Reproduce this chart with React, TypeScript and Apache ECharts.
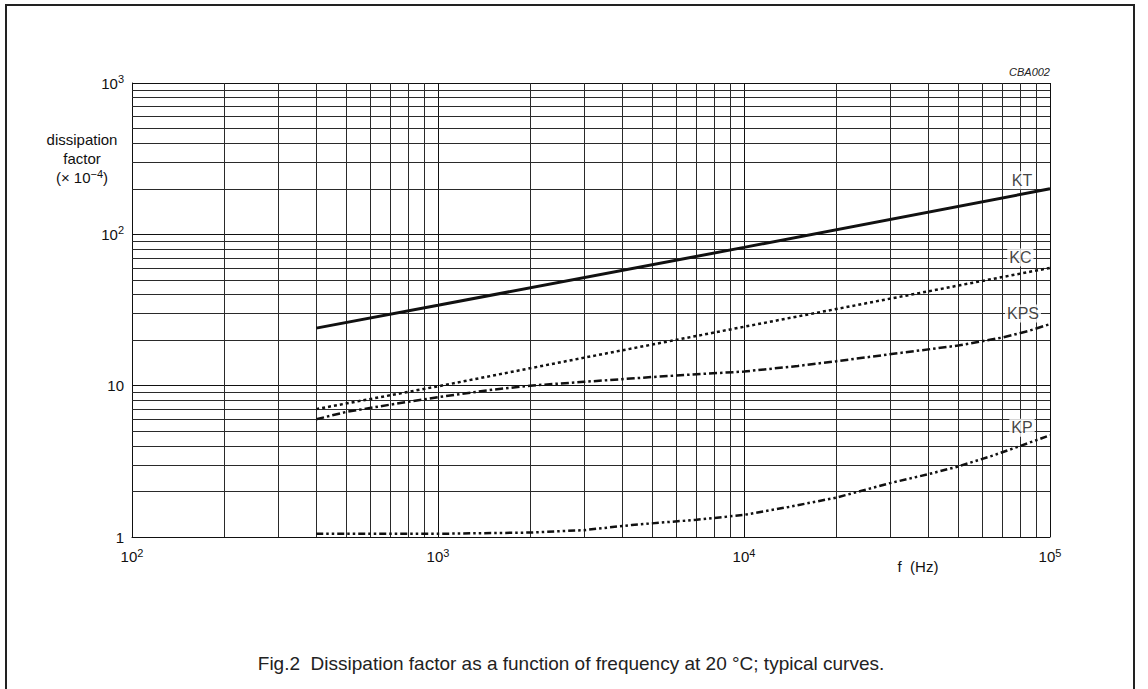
import React, { useEffect, useRef } from "react";
import * as echarts from "echarts";

// ---- data ----
const ktFreq = [400, 1000, 10000, 100000];
const ktVal = [24, 34, 82, 200];

const kcFreq = [400, 1000, 2900, 10000, 100000];
const kcVal = [7, 9.9, 15.1, 24.5, 60];

const kpsFreq = [400, 500, 700, 1000, 1500, 2000, 3000, 5000, 7000, 10000, 15000, 20000, 32000, 50000, 70000, 85000, 100000];
const kpsVal = [6, 6.7, 7.5, 8.4, 9.4, 10, 10.6, 11.4, 11.9, 12.4, 13.5, 14.5, 16.4, 18.4, 20.8, 23, 25.5];

const kpFreq = [400, 1000, 2000, 3000, 4300, 5500, 7000, 10000, 14000, 20000, 30000, 40000, 50000, 65000, 80000, 100000];
const kpVal = [1.05, 1.05, 1.07, 1.11, 1.2, 1.25, 1.3, 1.4, 1.58, 1.82, 2.27, 2.6, 2.92, 3.45, 4.0, 4.7];

// curve tags (frequency, value) placed near right end
const tagNames = ["KT", "KC", "KPS", "KP"];
const tagFreq = [81000, 80000, 81600, 81000];
const tagVal = [228, 70.4, 30, 5.27];

// minor grid values
const xMinor = [200, 300, 400, 500, 600, 700, 800, 900, 2000, 3000, 4000, 5000, 6000, 7000, 8000, 9000, 20000, 30000, 40000, 50000, 60000, 70000, 80000, 90000];
const yMinor = [2, 3, 4, 5, 6, 7, 8, 9, 20, 30, 40, 50, 60, 70, 80, 90, 200, 300, 400, 500, 600, 700, 800, 900];

const FONT = "'Liberation Sans', Arial, Helvetica, sans-serif";
const INK = "#111";

const zip = (xs: number[], ys: number[]) => xs.map((x, i) => [x, ys[i]]);

export default function App() {
  const ref = useRef<HTMLDivElement>(null);
  useEffect(() => {
    if (!ref.current) return;
    const chart = echarts.init(ref.current, null, { renderer: "svg" });
    const sup = { fontSize: 11, fontFamily: FONT, color: INK, padding: [0, 0, 8, 0] };
    const base = { fontSize: 15, fontFamily: FONT, color: INK };
    const lineCommon = { type: "line", showSymbol: false, symbol: "none", silent: true, z: 5 };
    chart.setOption({
      animation: false,
      backgroundColor: "#fff",
      grid: { left: 132, top: 83, width: 918, height: 454, containLabel: false },
      xAxis: {
        type: "log",
        logBase: 10,
        min: 100,
        max: 100000,
        axisLine: { show: true, lineStyle: { color: INK, width: 1 } },
        axisTick: { show: false },
        splitLine: { show: true, lineStyle: { color: INK, width: 1 } },
        axisLabel: {
          margin: 10,
          formatter: (v: number) => "{b|10}{sup|" + Math.round(Math.log10(v)) + "}",
          rich: { b: base, sup },
        },
      },
      yAxis: {
        type: "log",
        logBase: 10,
        min: 1,
        max: 1000,
        axisLine: { show: true, lineStyle: { color: INK, width: 1 } },
        axisTick: { show: false },
        splitLine: { show: true, lineStyle: { color: INK, width: 1 } },
        axisLabel: {
          margin: 8,
          formatter: (v: number) => {
            const e = Math.round(Math.log10(v));
            if (e === 0) return "{b|1}";
            if (e === 1) return "{b|10}";
            return "{b|10}{sup|" + e + "}";
          },
          rich: { b: base, sup },
        },
      },
      series: [
        {
          type: "line",
          data: [],
          silent: true,
          z: 1,
          markLine: {
            silent: true,
            symbol: ["none", "none"],
            label: { show: false },
            lineStyle: { color: "#2a2a2a", width: 1, type: "solid" },
            data: [
              ...xMinor.map((v) => ({ xAxis: v })),
              ...yMinor.map((v) => ({ yAxis: v })),
            ],
          },
        },
        {
          ...lineCommon,
          name: "KT",
          data: zip(ktFreq, ktVal),
          lineStyle: { color: INK, width: 3, type: "solid" },
        },
        {
          ...lineCommon,
          name: "KC",
          data: zip(kcFreq, kcVal),
          lineStyle: { color: INK, width: 2.5, type: [3, 3] },
        },
        {
          ...lineCommon,
          name: "KPS",
          data: zip(kpsFreq, kpsVal),
          lineStyle: { color: INK, width: 2.5, type: [8, 3, 2.5, 3] },
        },
        {
          ...lineCommon,
          name: "KP",
          data: zip(kpFreq, kpVal),
          lineStyle: { color: INK, width: 2.5, type: [7, 3, 2.5, 3, 2.5, 3] },
        },
        {
          type: "scatter",
          silent: true,
          z: 10,
          symbolSize: 0,
          data: tagNames.map((n, i) => ({ name: n, value: [tagFreq[i], tagVal[i]] })),
          label: {
            show: true,
            position: "inside",
            formatter: "{b}",
            fontSize: 16,
            fontFamily: FONT,
            color: INK,
            backgroundColor: "#fff",
            padding: [1, 2, 1, 2],
          },
        },
      ],
      graphic: [
        {
          type: "rect",
          shape: { x: 6, y: 5, width: 1128, height: 720 },
          style: { fill: "none", stroke: "#222", lineWidth: 2 },
          silent: true,
        },
        {
          type: "text",
          x: 82,
          y: 130,
          style: {
            text: "{b|dissipation}\n{b|factor}\n{b|(× 10}{sup|−4}{b|)}",
            align: "center",
            lineHeight: 19,
            rich: { b: { ...base, lineHeight: 19 }, sup: { ...sup, padding: [0, 0, 7, 0] } },
            fill: INK,
          },
          silent: true,
        },
        {
          type: "text",
          x: 918,
          y: 566,
          style: { text: "f  (Hz)", font: "15px " + FONT, fill: INK, align: "center", verticalAlign: "middle" },
          silent: true,
        },
        {
          type: "text",
          x: 1050,
          y: 72,
          style: { text: "CBA002", font: "italic 11px " + FONT, fill: "#222", align: "right", verticalAlign: "middle" },
          silent: true,
        },
        {
          type: "text",
          x: 571,
          y: 663,
          style: {
            text: "Fig.2  Dissipation factor as a function of frequency at 20 °C; typical curves.",
            font: "19px " + FONT,
            fill: "#222",
            align: "center",
            verticalAlign: "middle",
          },
          silent: true,
        },
      ],
    });
    return () => chart.dispose();
  }, []);
  return <div ref={ref} style={{ position: "absolute", left: 0, top: 0, width: 1148, height: 689 }} />;
}
